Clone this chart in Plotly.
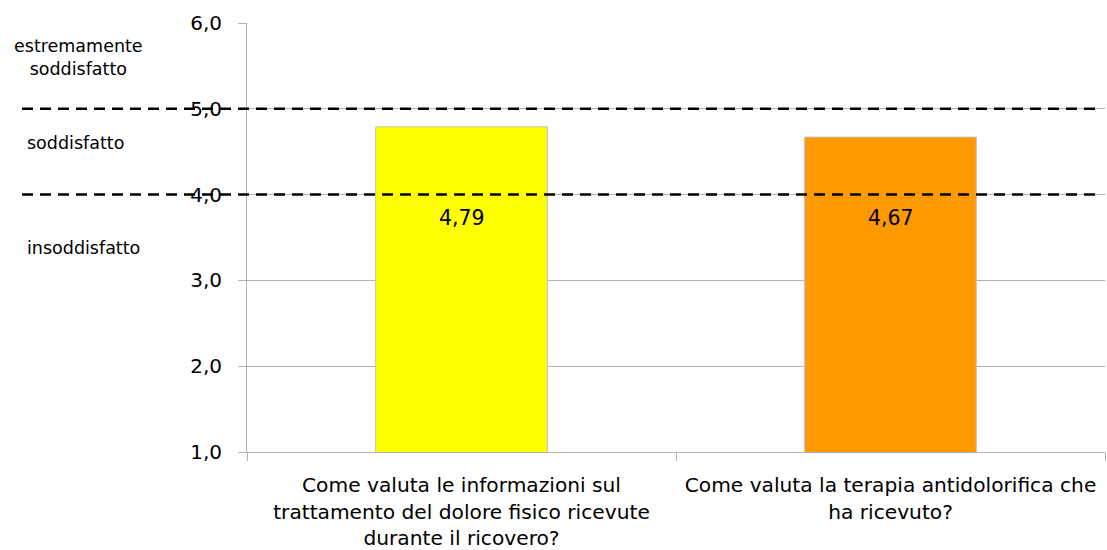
import plotly.graph_objects as go

categories = [
    "Come valuta le informazioni sul<br>trattamento del dolore fisico ricevute<br>durante il ricovero?",
    "Come valuta la terapia antidolorifica che<br>ha ricevuto?",
]
values = [4.79, 4.67]
value_labels = ["4,79", "4,67"]
bar_colors = ["#FFFF00", "#FF9900"]
thresholds = [5.0, 4.0]
band_labels = ["estremamente<br>soddisfatto", "soddisfatto", "insoddisfatto"]
band_label_y = [5.60, 4.60, 3.38]
value_label_y = 3.73

FONT = "DejaVu Sans"
W, H = 1107, 550
ML, MR, MT, MB = 247, 2, 23, 98
PW = W - ML - MR

def px_to_paper(px):
    return (px - ML) / PW

fig = go.Figure()
fig.add_trace(go.Bar(
    x=categories, y=values, base=0,
    marker=dict(color=bar_colors, line=dict(color="#BFBFBF", width=1)),
    width=0.4, hoverinfo="skip",
))

for cat, lab in zip(categories, value_labels):
    fig.add_annotation(x=cat, y=value_label_y, xref="x", yref="y", text=lab, showarrow=False,
                       font=dict(family=FONT, size=20.5, color="#000000"))

for t in thresholds:
    fig.add_shape(type="line", xref="paper", yref="y",
                  x0=px_to_paper(22), x1=px_to_paper(1098), y0=t, y1=t,
                  line=dict(color="#000000", width=2.5, dash="11px,7px"), layer="above")

positions = [(78, "center"), (25, "left"), (25, "left")]
for lab, yv, (xp, anc) in zip(band_labels, band_label_y, positions):
    fig.add_annotation(x=px_to_paper(xp), y=yv, xref="paper", yref="y", text=lab,
                       showarrow=False, xanchor=anc, align="center",
                       font=dict(family=FONT, size=17.5, color="#000000"))

fig.update_layout(
    width=W, height=H, margin=dict(l=ML, r=MR, t=MT, b=MB, autoexpand=False),
    paper_bgcolor="white", plot_bgcolor="white", showlegend=False,
    separators=",.",
    font=dict(family=FONT, size=20, color="#000000"),
)
fig.update_yaxes(range=[1, 6], dtick=1, tick0=1, tickformat=".1f",
                 showgrid=True, gridcolor="#B3B3B3", gridwidth=1,
                 showline=True, linecolor="#B3B3B3", linewidth=1,
                 ticks="outside", ticklen=8, tickcolor="#B3B3B3",
                 ticklabelstandoff=12, zeroline=False, automargin=False,
                 tickfont=dict(family=FONT, size=20, color="#000000"))
fig.update_xaxes(showline=True, linecolor="#B3B3B3", linewidth=1,
                 ticks="outside", ticklen=8, tickcolor="#B3B3B3",
                 tickson="boundaries", showgrid=False, ticklabelstandoff=15,
                 tickangle=0, automargin=False,
                 tickfont=dict(family=FONT, size=20.2, color="#000000"))

fig.write_html("out.html", config={"displayModeBar": False},
               post_script="document.body.style.margin='0';document.body.style.overflow='hidden';")
